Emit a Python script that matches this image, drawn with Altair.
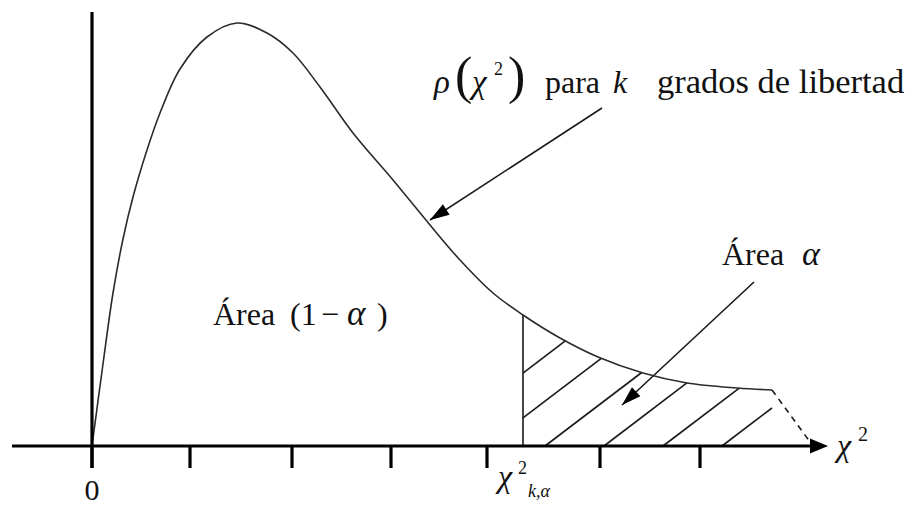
import math
import numpy as np
import pandas as pd
import altair as alt

# Chi-square density curve (x in chi-square units, y in density units)
chi_x = [0.0, 0.11, 0.21, 0.31, 0.41, 0.55, 0.68, 0.88, 1.15, 1.45, 1.75, 2.01,
         2.28, 2.61, 3.01, 3.38, 3.68, 4.01, 4.31, 4.68, 5.06, 5.51, 5.95, 6.45, 6.80]
chi_y = [0.0, 0.041, 0.0765, 0.1035, 0.1245, 0.148, 0.1665, 0.1885, 0.2045, 0.2115,
         0.2065, 0.1965, 0.1795, 0.1565, 0.133, 0.1105, 0.093, 0.0765, 0.0655, 0.054,
         0.0445, 0.0365, 0.0315, 0.029, 0.028]
# dashed continuation of the tail
tail_x = [6.80, 7.21]
tail_y = [0.028, 0.0]
# tick marks on the horizontal axis
tick_x = [0.0, 0.98, 2.0, 2.99, 3.95, 5.08, 6.08]
# critical value chi^2_{k,alpha}
crit_x = 4.31
# hatch lines of the rejection region (axis intercepts and slope)
hatch_x0 = [3.35, 3.94, 4.53, 5.12, 5.71, 6.30]
hatch_slope = 0.038

# screen scale: 100 px per x unit, 2000 px per y unit
PX_X, PX_Y = 100.0, 2000.0
X = alt.Scale(domain=[-0.92, 8.24], nice=False, zero=False)
Y = alt.Scale(domain=[-0.0305, 0.223], nice=False, zero=False)
FONT = "Liberation Serif"


def curve_at(t):
    return float(np.interp(t, chi_x, chi_y))


curve_df = pd.DataFrame({"t": chi_x, "d": chi_y})

# hatch segments clipped to the region under the curve, right of the critical value
t_end = chi_x[-1]
grid = np.linspace(crit_x, t_end, 2000)
hatch_rows = []
for t0 in hatch_x0:
    if t0 < crit_x:
        ts, ds = crit_x, hatch_slope * (crit_x - t0)
    else:
        ts, ds = t0, 0.0
    gap = hatch_slope * (grid - t0) - np.interp(grid, chi_x, chi_y)
    hit = np.where((gap >= 0) & (grid >= ts))[0]
    te = float(grid[hit[0]]) if len(hit) else t_end
    hatch_rows.append({"t": ts, "d": ds, "t2": te, "d2": hatch_slope * (te - t0)})

thin_rows = hatch_rows + [
    {"t": crit_x, "d": 0.0, "t2": crit_x, "d2": curve_at(crit_x)},
]

# annotation arrows: start point -> tip
arrows = [
    {"t": 5.10, "d": 0.169, "t2": 3.38, "d2": 0.113},
    {"t": 6.62, "d": 0.082, "t2": 5.30, "d2": 0.0205},
]
thin_rows += arrows

axis_rows = [
    {"t": -0.80, "d": 0.0, "t2": 7.22, "d2": 0.0},       # horizontal axis
    {"t": 0.0, "d": 0.217, "t2": 0.0, "d2": -0.011},     # vertical axis
] + [{"t": v, "d": 0.0, "t2": v, "d2": -0.011} for v in tick_x]

tail_df = pd.DataFrame([{"t": tail_x[0], "d": tail_y[0], "t2": tail_x[1], "d2": tail_y[1]}])


def heading(a):
    dx = (a["t2"] - a["t"]) * PX_X
    dy = -(a["d2"] - a["d"]) * PX_Y
    return math.degrees(math.atan2(dx, -dy)) % 360


heads = [{"t": a["t2"], "d": a["d2"], "ang": heading(a)} for a in arrows]
axis_head = [{"t": 7.36, "d": 0.0, "ang": 90.0}]

# text pieces: x, y (baseline), text, font size, italic flag
labels = [
    (3.42, 0.1765, "ρ", 33, True),
    (3.63, 0.1765, "(", 52, False),
    (3.80, 0.1765, "χ", 33, True),
    (4.02, 0.1855, "2", 18, False),
    (4.16, 0.1765, ")", 52, False),
    (4.53, 0.1765, "para", 32, False),
    (5.21, 0.1765, "k", 32, True),
    (5.65, 0.1765, "grados de libertad", 34.5, False),
    (1.21, 0.0605, "Área", 32, False),
    (1.98, 0.0605, "(1", 32, False),
    (2.29, 0.0605, "−", 32, False),
    (2.55, 0.0605, "α", 35, True),
    (2.85, 0.0605, ")", 32, False),
    (6.30, 0.0905, "Área", 32, False),
    (7.10, 0.0905, "α", 34, True),
    (4.06, -0.0205, "χ", 32, True),
    (4.26, -0.0140, "2", 18, False),
    (4.36, -0.0255, "k,α", 18, True),
    (7.45, -0.0050, "χ", 32, True),
    (7.66, 0.0025, "2", 20, False),
    (-0.075, -0.0270, "0", 30, False),
]
lab_df = pd.DataFrame(labels, columns=["t", "d", "text", "size", "italic"])

enc_xy = dict(
    x=alt.X("t:Q", scale=X, axis=None),
    y=alt.Y("d:Q", scale=Y, axis=None),
)
enc_seg = dict(enc_xy, x2="t2:Q", y2="d2:Q")

curve = alt.Chart(curve_df).mark_line(
    interpolate="catmull-rom", color="#2b2b2b", strokeWidth=1.6
).encode(**enc_xy)

thin = alt.Chart(pd.DataFrame(thin_rows)).mark_rule(
    color="#1a1a1a", strokeWidth=1.6
).encode(**enc_seg)

axes = alt.Chart(pd.DataFrame(axis_rows)).mark_rule(
    color="black", strokeWidth=3.2
).encode(**enc_seg)

tail = alt.Chart(tail_df).mark_rule(
    color="#1a1a1a", strokeWidth=1.6, strokeDash=[6, 5]
).encode(**enc_seg)

head_marks = alt.Chart(pd.DataFrame(heads)).mark_point(
    shape="M0,0L-0.32,1L0.32,1Z", filled=True, opacity=1, color="black",
    size=1500, strokeWidth=0
).encode(angle=alt.Angle("ang:Q", scale=None), **enc_xy)

axis_arrow = alt.Chart(pd.DataFrame(axis_head)).mark_point(
    shape="M0,0L-0.42,1L0.42,1Z", filled=True, opacity=1, color="black",
    size=1300, strokeWidth=0
).encode(angle=alt.Angle("ang:Q", scale=None), **enc_xy)

text_up = alt.Chart(lab_df[~lab_df["italic"]]).mark_text(
    font=FONT, align="left", baseline="alphabetic", color="#111"
).encode(text="text:N", size=alt.Size("size:Q", scale=None), **enc_xy)

text_it = alt.Chart(lab_df[lab_df["italic"]]).mark_text(
    font=FONT, fontStyle="italic", align="left", baseline="alphabetic", color="#111"
).encode(text="text:N", size=alt.Size("size:Q", scale=None), **enc_xy)

chart = alt.layer(
    thin, tail, curve, axes, head_marks, axis_arrow, text_up, text_it
).properties(
    width=916, height=507, padding=0,
    autosize=alt.AutoSizeParams(type="none"),
    background="white",
).configure_view(stroke=None)

chart.save("out.html", embed_options={"renderer": "svg", "actions": False})
